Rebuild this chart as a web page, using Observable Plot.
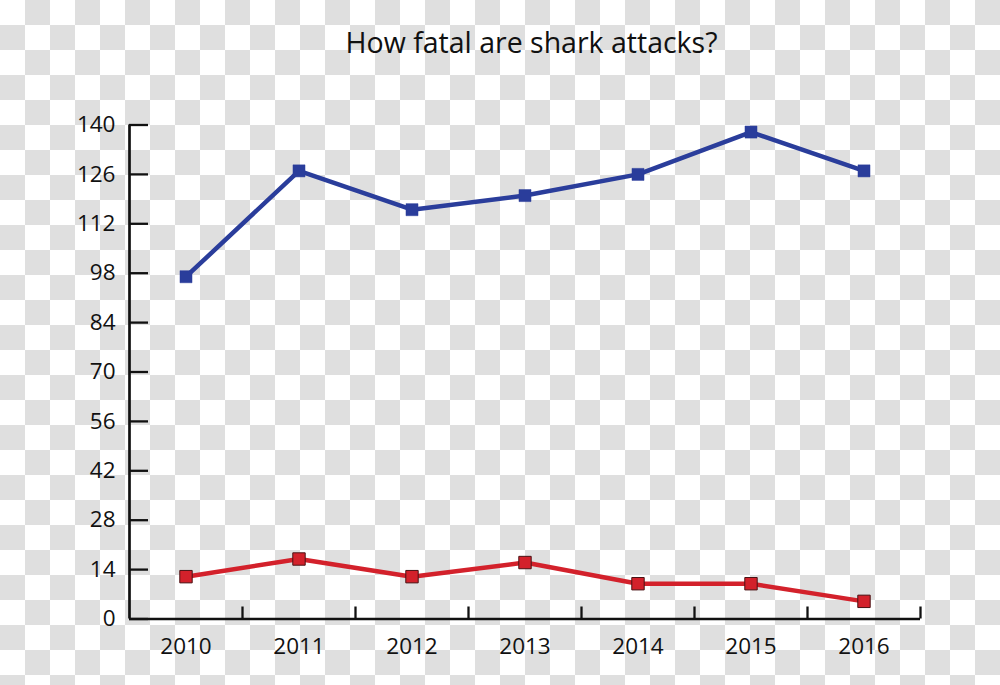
<!DOCTYPE html>
<html><head><meta charset="utf-8">
<script src="https://cdn.jsdelivr.net/npm/d3@7"></script>
<script src="https://cdn.jsdelivr.net/npm/@observablehq/plot@0.6"></script>
<style>
html,body{margin:0;padding:0;}
body{width:1000px;height:685px;overflow:hidden;background:repeating-conic-gradient(#dfdfdf 0 25%, #ffffff 0 50%) 0 0/50px 50px;font-family:"Open Sans",sans-serif;}
#title{height:80px;box-sizing:border-box;padding-top:23px;padding-left:63px;text-align:center;font-size:28.5px;line-height:38px;color:#111;white-space:nowrap;}
#chart svg{display:block;}
</style></head><body>
<div id="title">How fatal are shark attacks?</div>
<div id="chart"></div>
<script>
const years = [2010, 2011, 2012, 2013, 2014, 2015, 2016];
const totalAttacks = [97, 127, 116, 120, 126, 138, 127];
const fatalAttacks = [12, 17, 12, 16, 10, 10, 5];
const yTicks = [0, 14, 28, 42, 56, 70, 84, 98, 112, 126, 140];
const yDomain = [0, 140];

const blue = "#2a3d9b";
const red = "#d3212b";

const totals = years.map((y, i) => ({year: y, value: totalAttacks[i]}));
const fatals = years.map((y, i) => ({year: y, value: fatalAttacks[i]}));
const xDomain = [years[0] - 0.5, years[years.length - 1] + 0.5];
const boundaries = years.map(y => y + 0.5);

const chart = Plot.plot({
  width: 1000,
  height: 605,
  marginTop: 44.5,
  marginBottom: 66.5,
  marginLeft: 129,
  marginRight: 80,
  style: {background: "transparent", fontFamily: "'Open Sans', sans-serif", fontSize: "22px", color: "#111"},
  x: {domain: xDomain},
  y: {domain: yDomain},
  marks: [
    Plot.axisY({ticks: yTicks, tickSize: -19, tickPadding: 33, tickFormat: d => String(d), label: null, strokeWidth: 2.3, fontSize: 22.5, stroke: "#111", fill: "#111"}),
    Plot.axisX({ticks: years, tickSize: 0, tickPadding: 19, tickFormat: d => String(d), label: null, fontSize: 22.5, fill: "#111"}),
    Plot.axisX({ticks: boundaries, tickSize: -12, tickFormat: () => "", label: null, strokeWidth: 2.3, stroke: "#111"}),
    Plot.ruleX([xDomain[0]], {stroke: "#111", strokeWidth: 2.7}),
    Plot.ruleY([0], {stroke: "#111", strokeWidth: 2.7}),
    Plot.line(totals, {x: "year", y: "value", stroke: blue, strokeWidth: 4.5}),
    Plot.dot(totals, {x: "year", y: "value", symbol: "square", r: 6.8, fill: blue, stroke: blue, strokeWidth: 0.5}),
    Plot.line(fatals, {x: "year", y: "value", stroke: red, strokeWidth: 4.5}),
    Plot.dot(fatals, {x: "year", y: "value", symbol: "square", r: 7, fill: red, stroke: "#4a1214", strokeWidth: 1})
  ]
});
document.getElementById("chart").appendChild(chart);
</script>
</body></html>
